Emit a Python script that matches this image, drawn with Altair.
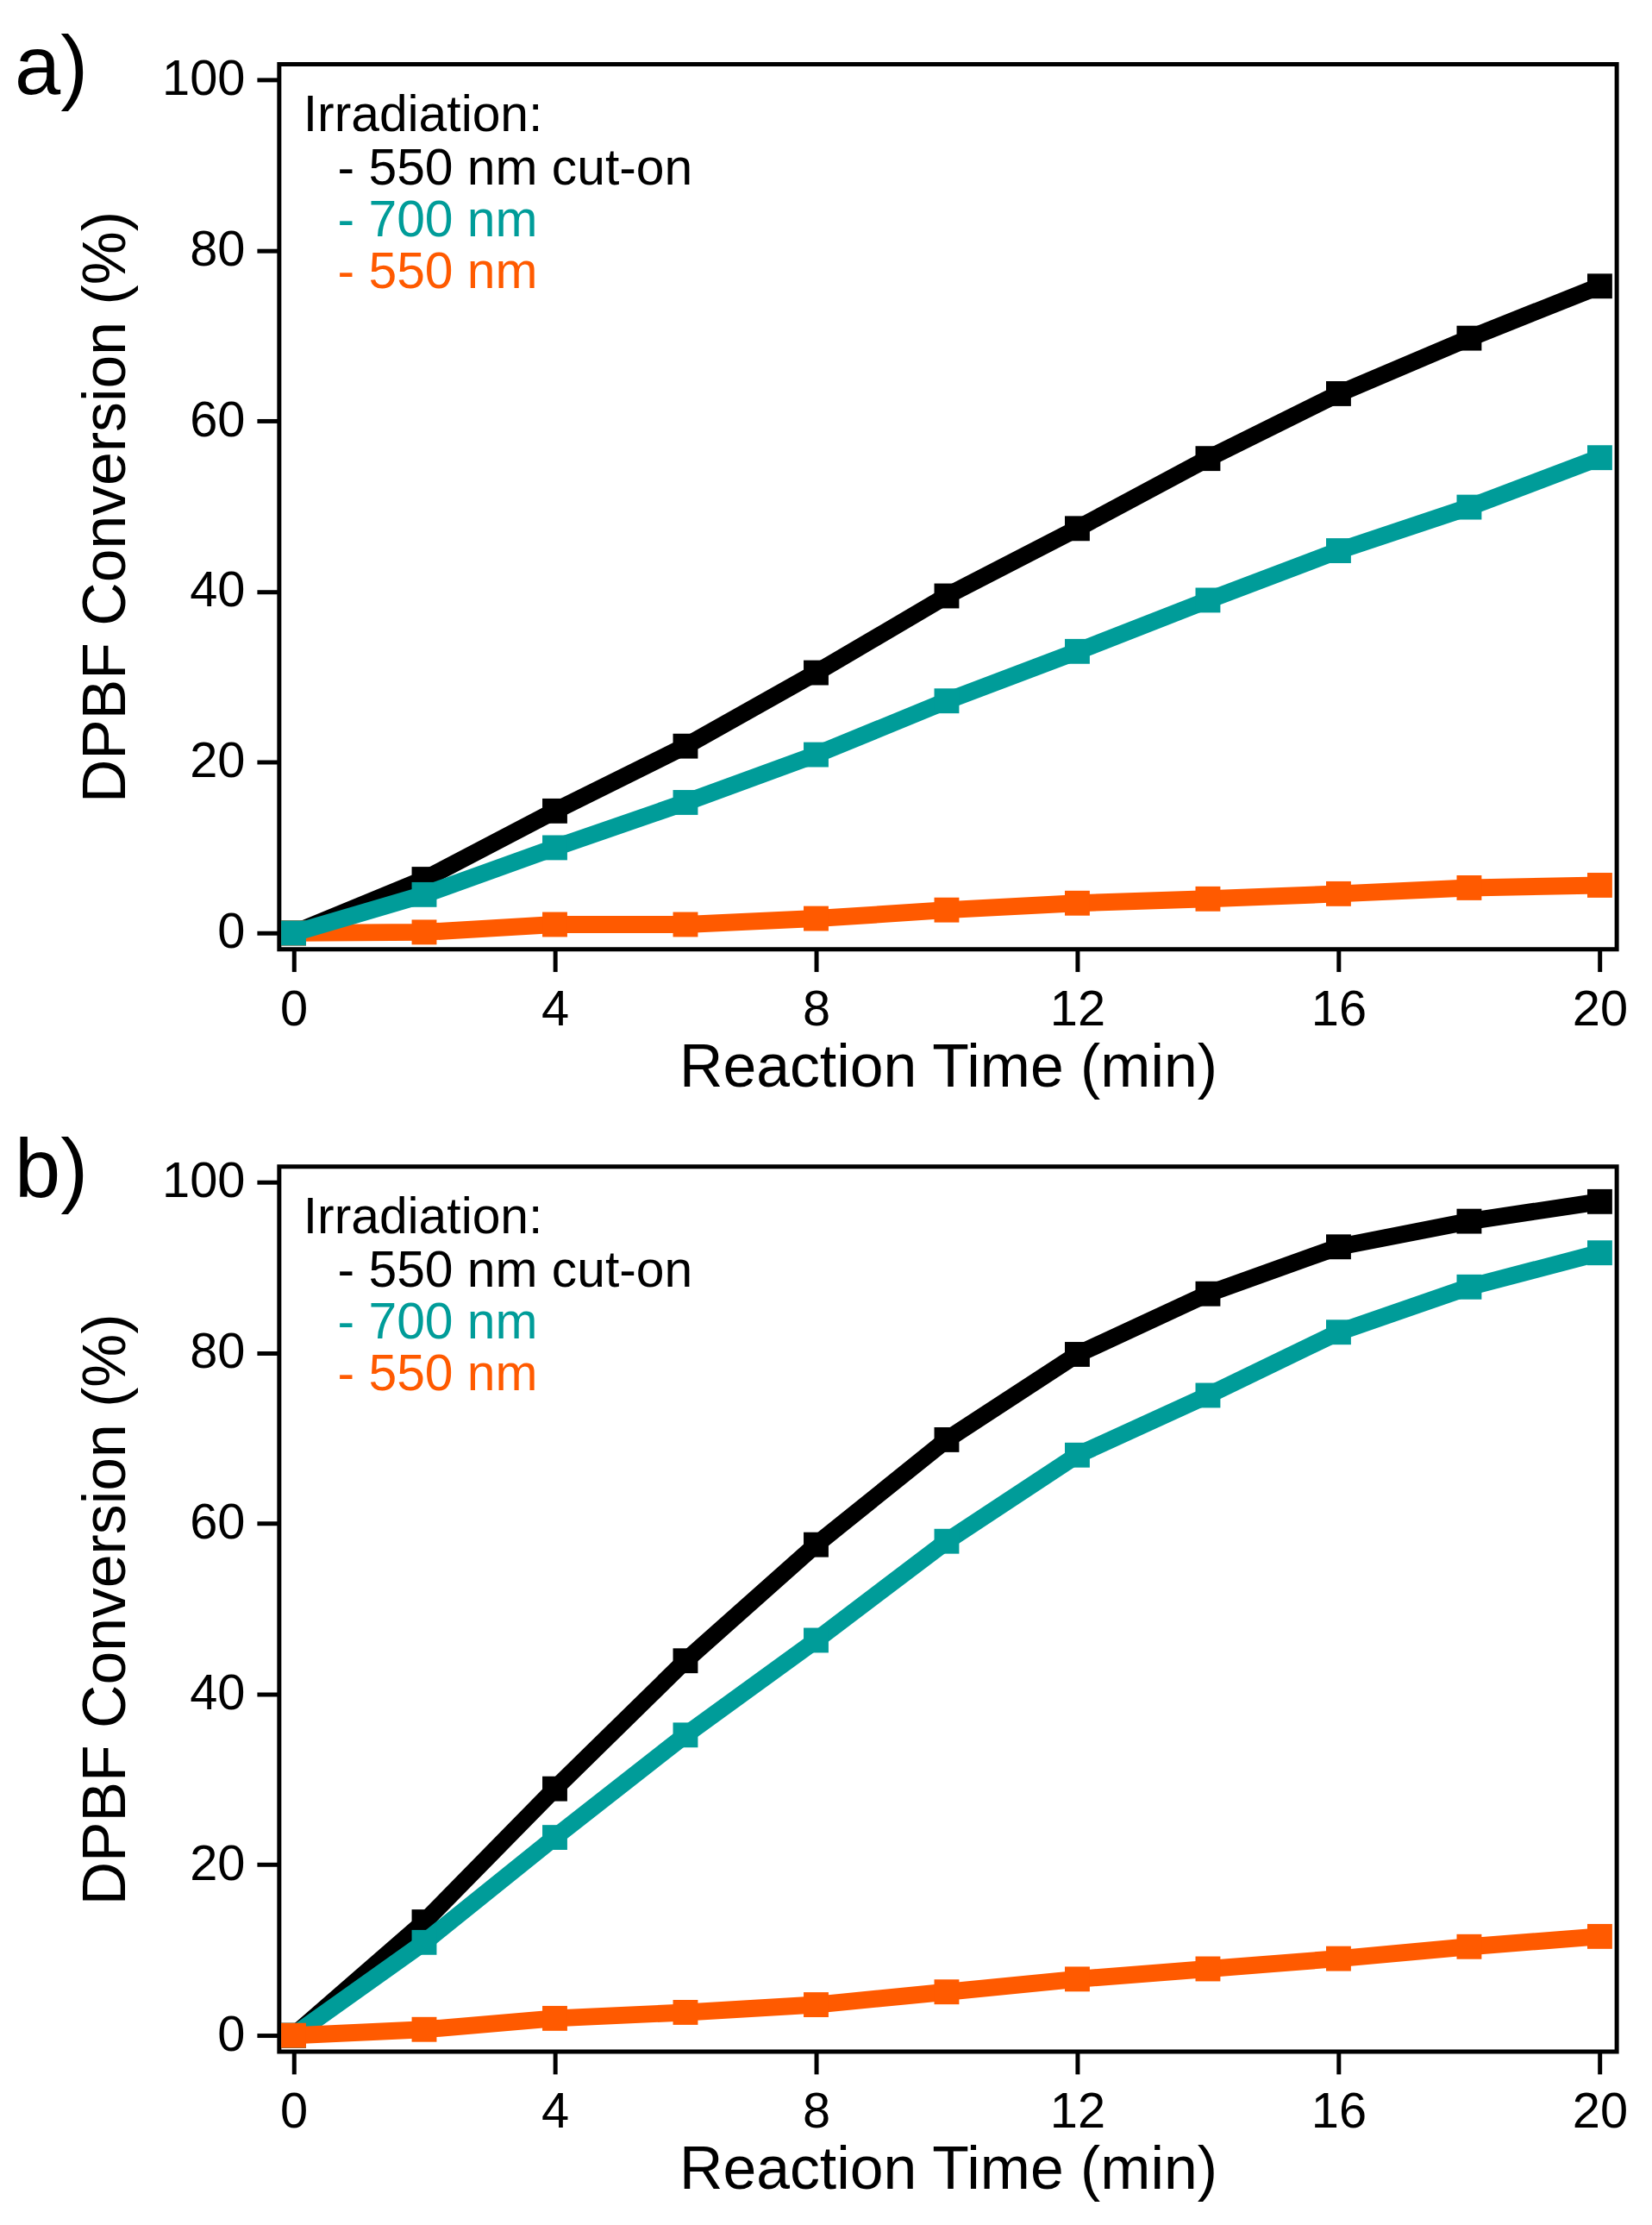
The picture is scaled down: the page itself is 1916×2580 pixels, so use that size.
import altair as alt
import pandas as pd

# ---- data ----
times = [0, 2, 4, 6, 8, 10, 12, 14, 16, 18, 20]

series_names = ["550 nm cut-on", "700 nm", "550 nm"]
series_colors = ["#000000", "#009C99", "#FF5A00"]

a_cuton = [0, 6.3, 14.3, 21.9, 30.5, 39.5, 47.4, 55.6, 63.2, 69.7, 75.8]
a_700 = [0, 4.5, 10.0, 15.3, 20.9, 27.2, 33.0, 39.0, 44.8, 49.9, 55.7]
a_550 = [0, 0.1, 1.0, 1.0, 1.7, 2.7, 3.5, 4.0, 4.6, 5.3, 5.6]

b_cuton = [0, 13.3, 28.9, 43.9, 57.5, 69.8, 79.8, 86.9, 92.4, 95.4, 97.7]
b_700 = [0, 10.9, 23.2, 35.2, 46.3, 57.9, 68.0, 75.0, 82.4, 87.7, 91.7]
b_550 = [0, 0.7, 2.0, 2.7, 3.6, 5.1, 6.6, 7.8, 9.0, 10.4, 11.6]

x_ticks = [0, 4, 8, 12, 16, 20]
y_ticks = [0, 20, 40, 60, 80, 100]
legend_title = "Irradiation:"

FONT = "Liberation Sans"
W, H = 1557, 1030


def panel(label, values, order):
    xs = alt.Scale(domain=[-0.22, 20.26], nice=False, zero=False)
    ys = alt.Scale(domain=[-1.9, 101.8], nice=False, zero=False)
    xax = alt.Axis(values=x_ticks, title="Reaction Time (min)", labelPadding=16,
                   titlePadding=4)
    yax = alt.Axis(values=y_ticks, title="DPBF Conversion (%)", labelPadding=14,
                   titlePadding=28)
    layers = []
    for i in order:
        df = pd.DataFrame({"time": times, "value": values[i]})
        enc = dict(
            x=alt.X("time:Q", scale=xs, axis=xax),
            y=alt.Y("value:Q", scale=ys, axis=yax),
        )
        layers.append(
            alt.Chart(df).mark_line(color=series_colors[i], strokeWidth=20,
                                    strokeJoin="miter").encode(**enc)
        )
        layers.append(
            alt.Chart(df).mark_point(shape="square", filled=True, opacity=1,
                                     color=series_colors[i], size=840,
                                     strokeWidth=0).encode(**enc)
        )
    # panel label
    layers.append(
        alt.Chart(pd.DataFrame({"t": [label]})).mark_text(
            align="left", baseline="alphabetic", fontSize=96, font=FONT,
            color="black"
        ).encode(text="t:N", x=alt.value(-308), y=alt.value(35))
    )
    # legend block
    layers.append(
        alt.Chart(pd.DataFrame({"t": [legend_title]})).mark_text(
            align="left", baseline="alphabetic", fontSize=59, font=FONT,
            color="black"
        ).encode(text="t:N", x=alt.value(28), y=alt.value(78))
    )
    for k, (name, col) in enumerate(zip(series_names, series_colors)):
        layers.append(
            alt.Chart(pd.DataFrame({"t": ["- " + name]})).mark_text(
                align="left", baseline="alphabetic", fontSize=59, font=FONT,
                color=col
            ).encode(text="t:N", x=alt.value(68), y=alt.value(140 + 60 * k))
        )
    return alt.layer(*layers).properties(width=W, height=H)


pa = panel("a)", [a_cuton, a_700, a_550], order=[0, 2, 1])
pb = panel("b)", [b_cuton, b_700, b_550], order=[0, 1, 2])

chart = alt.vconcat(pa, pb, spacing=32).properties(
    padding={"left": 6, "top": 17, "right": 10, "bottom": 10},
    background="white",
).configure_view(
    stroke="black", strokeWidth=5
).configure_axis(
    domain=False, grid=False, ticks=True, tickColor="black", tickWidth=5,
    tickSize=26, labelFont=FONT, labelFontSize=58, labelColor="black",
    titleFont=FONT, titleFontSize=70, titleFontWeight="normal",
    titleColor="black"
)

chart.save("out.html", embed_options={"renderer": "svg", "actions": False})
